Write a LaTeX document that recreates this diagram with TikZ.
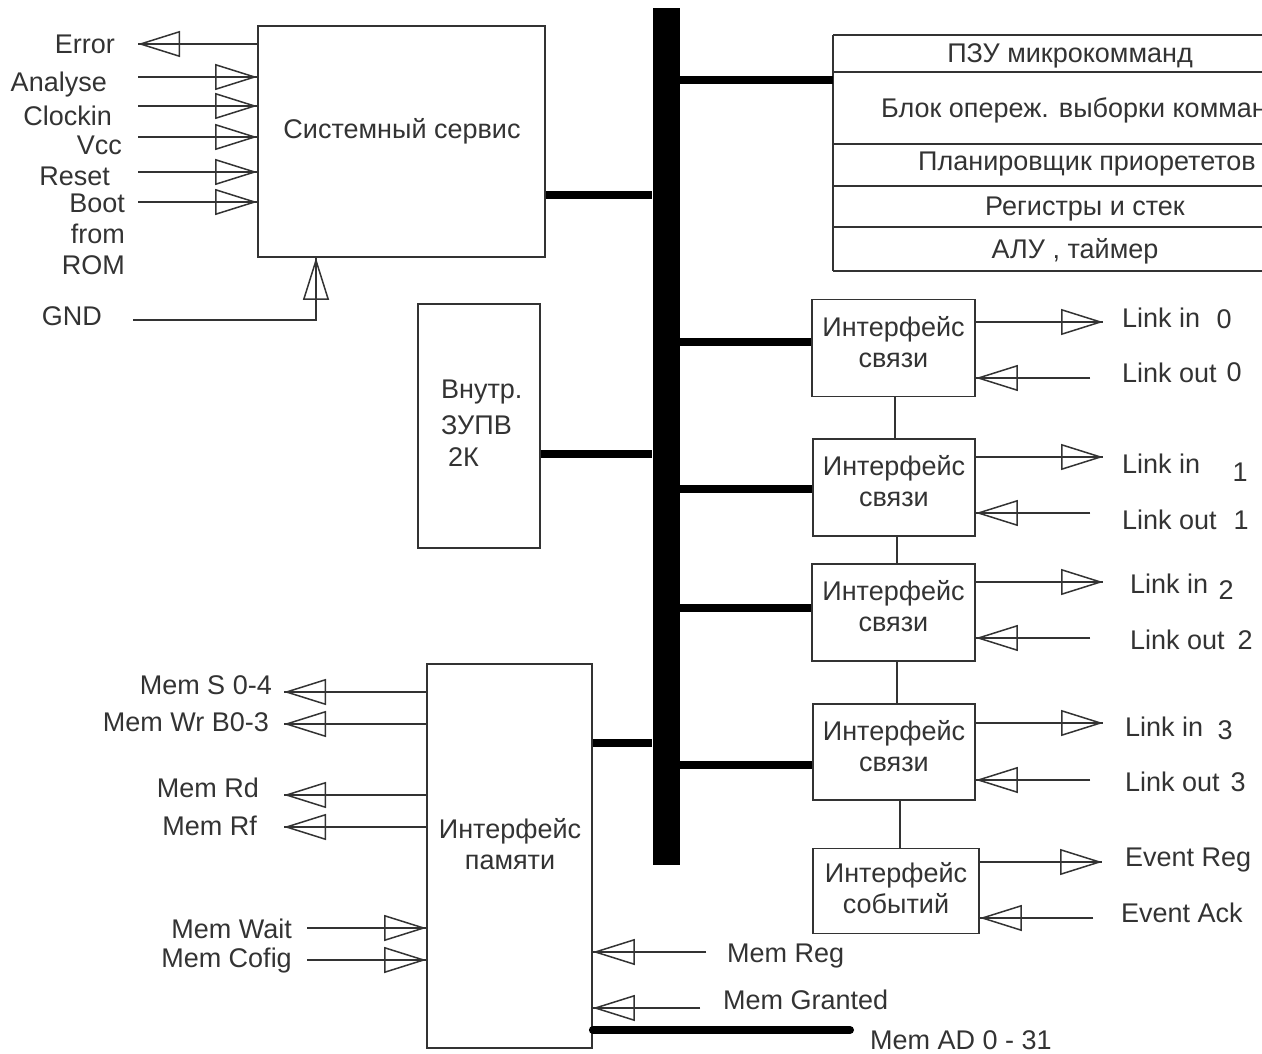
\documentclass[tikz,border=0pt]{standalone}
\usepackage{fontspec}
\setmainfont{Liberation Sans}
\usetikzlibrary{arrows.meta}
\begin{document}
\begin{tikzpicture}[x=1pt,y=-1pt,
  ln/.style={line width=1.6pt, draw=black!80},
  box/.style={draw=black!80, line width=1.8pt, inner sep=0pt, fill=white},
  thk/.style={line width=8pt, draw=black},
  sig/.style={ln, postaction={draw=black!80, line width=1.6pt, -{Triangle[open,length=42pt,width=26pt,line width=1.5pt]}}},
  lbl/.style={text=black!80, font=\fontsize{27}{31}\selectfont, inner sep=0pt, align=center},
]
\useasboundingbox (0,0) rectangle (1262,1054);
\clip (0,0) rectangle (1262,1054);

% main bus
\node[fill=black, minimum width=27pt, minimum height=857pt, inner sep=0pt] (bus) at (666,436.5) {};

% system service
\node[box, minimum width=287pt, minimum height=231pt] (sys) at (401.5,141.5) {};
\node[lbl] (sysT) at (402,131) {Системный сервис};
\draw[thk] (sys.east|-0,195) -- (bus.west|-0,195);

\coordinate (eErr) at (138,44);
\draw[sig] (sys.west|-0,44) -- (eErr);
\node[lbl, anchor=east] (lErr) at (115,44) {Error};

\foreach \nm/\y in {An/77,Cl/106,Vc/137,Re/172,Bo/202}{
  \coordinate (s\nm) at (138,\y);
  \draw[sig] (s\nm) -- (sys.west|-0,\y);
}
\node[lbl, anchor=east] (lAn) at (107,85) {Analyse};
\node[lbl, anchor=east] (lCl) at (112,116) {Clockin};
\node[lbl, anchor=east] (lVc) at (122,145) {Vcc};
\node[lbl, anchor=east] (lRe) at (110,176) {Reset};
\node[lbl, anchor=east] (lBo) at (125,203) {Boot};
\node[lbl, anchor=east] (lFr) at (125,234) {from};
\node[lbl, anchor=east] (lRo) at (125,265) {ROM};

\coordinate (sGnd) at (133,320);
\draw[sig] (sGnd) -- (316,320) -- (sys.south-|316,0);
\node[lbl, anchor=east] (lGnd) at (102,316) {GND};

% right block
\coordinate (rb1) at (833,35);
\coordinate (rb2) at (833,271);
\draw[ln] (rb1) -- (rb2);
\foreach \y in {35,72,144,186,227,271}{
  \draw[ln] (833,\y) -- (1262,\y);
}
\node[lbl] (rPzu) at (1070,56) {ПЗУ микрокомманд};
\node[lbl, anchor=west] (rBlk) at (881,110) {Блок опереж. выборки комманд};
\node[lbl] (rPlan) at (1087,164) {Планировщик приорететов};
\node[lbl] (rReg) at (1085,209) {Регистры и стек};
\node[lbl] (rAlu) at (1075,251) {АЛУ , таймер};
\draw[thk] (bus.east|-0,80) -- (rb1|-0,80);

% internal RAM
\node[box, minimum width=122pt, minimum height=244pt] (ram) at (479,426) {};
\node[lbl, anchor=west] (ram1) at (441,392) {Внутр.};
\node[lbl, anchor=west] (ram2) at (441,425) {ЗУПВ};
\node[lbl, anchor=west] (ram3) at (448,457) {2К};
\draw[thk] (ram.east|-0,454) -- (bus.west|-0,454);

% link interfaces
\node[box, minimum width=163pt, minimum height=97pt] (if0) at (893.5,348) {};
\node[box, minimum width=162pt, minimum height=97pt] (if1) at (894,487.5) {};
\node[box, minimum width=163pt, minimum height=97pt] (if2) at (893.5,612.5) {};
\node[box, minimum width=162pt, minimum height=96pt] (if3) at (894,752) {};
\node[box, minimum width=166pt, minimum height=85pt] (ev) at (896,891) {};
\foreach \b in {if0,if1,if2,if3}{
  \node[lbl] (\b T) at ([yshift=6pt]\b.center) {Интерфейс\\связи};
}
\node[lbl] (evT) at ([yshift=3pt]ev.center) {Интерфейс\\событий};

\draw[thk] (bus.east|-0,342) -- (if0.west|-0,342);
\draw[thk] (bus.east|-0,489) -- (if1.west|-0,489);
\draw[thk] (bus.east|-0,608) -- (if2.west|-0,608);
\draw[thk] (bus.east|-0,765) -- (if3.west|-0,765);

\draw[ln] (if0.south-|895,0) -- (if1.north-|895,0);
\draw[ln] (if1.south-|897,0) -- (if2.north-|897,0);
\draw[ln] (if2.south-|897,0) -- (if3.north-|897,0);
\draw[ln] (if3.south-|900,0) -- (ev.north-|900,0);

% link signals
\foreach \b/\yi/\yo in {if0/322/378, if1/457/513, if2/582/638, if3/723/780}{
  \coordinate (\b in) at (1103,\yi);
  \coordinate (\b out) at (1090,\yo);
  \draw[sig] (\b.east|-0,\yi) -- (\b in);
  \draw[sig] (\b out) -- (\b.east|-0,\yo);
}
\coordinate (evin) at (1102,862);
\coordinate (evout) at (1093,918);
\draw[sig] (ev.east|-0,862) -- (evin);
\draw[sig] (evout) -- (ev.east|-0,918);

\node[lbl, anchor=west] (li0) at (1122,318) {Link in};
\node[lbl] (li0n) at (1224,319) {0};
\node[lbl, anchor=west] (lo0) at (1122,373) {Link out};
\node[lbl] (lo0n) at (1234,372) {0};
\node[lbl, anchor=west] (li1) at (1122,464) {Link in};
\node[lbl] (li1n) at (1240,472) {1};
\node[lbl, anchor=west] (lo1) at (1122,520) {Link out};
\node[lbl] (lo1n) at (1241,520) {1};
\node[lbl, anchor=west] (li2) at (1130,584) {Link in};
\node[lbl] (li2n) at (1226,590) {2};
\node[lbl, anchor=west] (lo2) at (1130,640) {Link out};
\node[lbl] (lo2n) at (1245,640) {2};
\node[lbl, anchor=west] (li3) at (1125,727) {Link in};
\node[lbl] (li3n) at (1225,730) {3};
\node[lbl, anchor=west] (lo3) at (1125,782) {Link out};
\node[lbl] (lo3n) at (1238,782) {3};
\node[lbl, anchor=west] (lER) at (1125,860) {Event Reg};
\node[lbl, anchor=west] (lEA) at (1121,913) {Event Ack};

% memory interface
\node[box, minimum width=165pt, minimum height=384pt] (mem) at (509.5,856) {};
\node[lbl] (memT) at (510,844) {Интерфейс\\памяти};
\draw[thk] (mem.east|-0,743) -- (bus.west|-0,743);

\foreach \nm/\y in {S/692,W/724,D/795,F/827}{
  \coordinate (m\nm) at (284,\y);
  \draw[sig] (mem.west|-0,\y) -- (m\nm);
}
\node[lbl, anchor=east] (lmS) at (272,685) {Mem S 0-4};
\node[lbl, anchor=east] (lmW) at (269,722) {Mem Wr B0-3};
\node[lbl, anchor=east] (lmD) at (259,788) {Mem Rd};
\node[lbl, anchor=east] (lmF) at (257,826) {Mem Rf};

\coordinate (mWait) at (307,928);
\coordinate (mCfg) at (307,960);
\draw[sig] (mWait) -- (mem.west|-0,928);
\draw[sig] (mCfg) -- (mem.west|-0,960);
\node[lbl, anchor=east] (lmWait) at (292,929) {Mem Wait};
\node[lbl, anchor=east] (lmCfg) at (292,961) {Mem Cofig};

\coordinate (mReg) at (706,952);
\coordinate (mGr) at (700,1008);
\draw[sig] (mReg) -- (mem.east|-0,952);
\draw[sig] (mGr) -- (mem.east|-0,1008);
\node[lbl, anchor=west] (lmReg) at (727,956) {Mem Reg};
\node[lbl, anchor=west] (lmGr) at (723,1000) {Mem Granted};

\coordinate (mAD) at (850,1030);
\draw[thk, line cap=round] (mem.east|-0,1030) -- (mAD);
\node[lbl, anchor=west] (lmAD) at (870,1040) {Mem AD 0 - 31};
\end{tikzpicture}
\end{document}
